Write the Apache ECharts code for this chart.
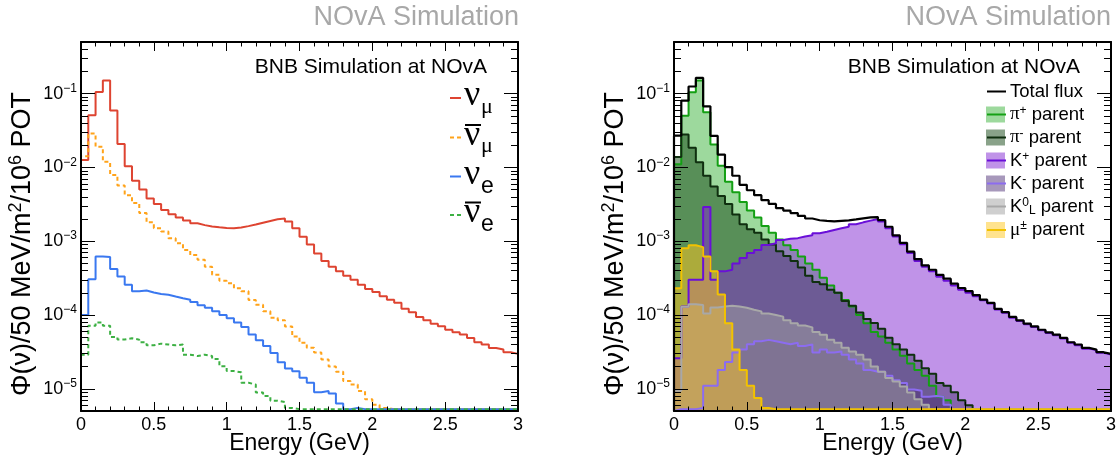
<!DOCTYPE html>
<html>
<head>
<meta charset="utf-8">
<title>BNB flux at NOvA</title>
<script src="https://cdn.jsdelivr.net/npm/echarts@6/dist/echarts.min.js"></script>
<style>
  html, body { margin: 0; padding: 0; background: #fff; }
  #chart { width: 1117px; height: 455px; }
</style>
</head>
<body>
<div id="chart"></div>
<script>
// 50 MeV bins from 0 to 3 GeV
const binEdges = [0, 0.05, 0.1, 0.15, 0.2, 0.25, 0.3, 0.35, 0.4, 0.45, 0.5, 0.55, 0.6, 0.65, 0.7, 0.75,
  0.8, 0.85, 0.9, 0.95, 1, 1.05, 1.1, 1.15, 1.2, 1.25, 1.3, 1.35, 1.4, 1.45, 1.5, 1.55, 1.6, 1.65, 1.7,
  1.75, 1.8, 1.85, 1.9, 1.95, 2, 2.05, 2.1, 2.15, 2.2, 2.25, 2.3, 2.35, 2.4, 2.45, 2.5, 2.55, 2.6, 2.65,
  2.7, 2.75, 2.8, 2.85, 2.9, 2.95, 3]

// left panel: flux per flavour
const numu = [0.0126, 0.051, 0.105, 0.151, 0.059, 0.0207, 0.0104, 0.0066, 0.0050, 0.0038,
  0.0032, 0.00265, 0.00232, 0.0021, 0.0019, 0.00175, 0.00165, 0.00158, 0.00154, 0.00151,
  0.0015, 0.00153, 0.0016, 0.00168, 0.00178, 0.00188, 0.00198, 0.00203, 0.00185, 0.0015,
  0.00115, 0.0009, 0.00068, 0.00054, 0.00045, 0.00039, 0.00034, 0.0003, 0.000257, 0.000225,
  0.000205, 0.00018, 0.000161, 0.000146, 0.000121, 0.000109, 0.000094, 0.0000846, 0.0000763, 0.0000702,
  0.0000631, 0.0000582, 0.0000543, 0.0000489, 0.0000427, 0.0000398, 0.0000358, 0.000034, 0.0000313, 0.0000297]
const numubar = [0.0142, 0.0287, 0.019, 0.0119, 0.0079, 0.0057, 0.0042, 0.0033, 0.0024, 0.0018,
  0.0015, 0.00135, 0.0011, 0.00094, 0.00076, 0.00065, 0.00056, 0.00045, 0.00035, 0.00029,
  0.00027, 0.00023, 0.00021, 0.00016, 0.000138, 0.000112, 0.000092, 0.000085, 0.00007, 0.000051,
  0.000042, 0.000036, 0.000031, 0.000025, 0.00002, 0.000017, 0.0000127, 0.0000114, 0.0000093, 0.0000072,
  0.0000061, 0.0000055, 0, 0, 0, 0, 0, 0, 0, 0,
  0, 0, 0, 0, 0, 0, 0, 0, 0, 0]
const nue = [0.0001, 0.000306, 0.00062, 0.00061, 0.00042, 0.000333, 0.000257, 0.00021, 0.000215, 0.000202,
  0.000193, 0.000188, 0.000178, 0.000169, 0.000161, 0.00015, 0.000135, 0.000125, 0.000112, 0.0001,
  0.0000905, 0.0000793, 0.0000686, 0.0000543, 0.0000455, 0.0000379, 0.0000305, 0.0000229, 0.0000189, 0.0000173,
  0.0000141, 0.0000121, 0.000009, 0.0000093, 0.0000086, 0.0000063, 0, 0.0000055, 0, 0,
  0, 0, 0, 0, 0, 0, 0, 0, 0, 0,
  0, 0, 0, 0, 0, 0, 0, 0, 0, 0]
const nuebar = [0.000029, 0.0000716, 0.0000793, 0.0000716, 0.0000505, 0.0000466, 0.0000484, 0.0000463, 0.0000427, 0.0000388,
  0.0000409, 0.0000398, 0.0000388, 0.0000398, 0.000029, 0.0000278, 0.000029, 0.0000278, 0.0000253, 0.0000202,
  0.0000174, 0.0000167, 0.0000121, 0.0000114, 0.0000089, 0.000008, 0.0000069, 0.0000066, 0.0000055, 0,
  0, 0, 0, 0, 0, 0, 0, 0, 0, 0,
  0, 0, 0, 0, 0, 0, 0, 0, 0, 0,
  0, 0, 0, 0, 0, 0, 0, 0, 0, 0]

// right panel: total flux and flux by parent
const totalFlux = [0.0269, 0.0801, 0.1247, 0.1636, 0.0673, 0.0268, 0.0149, 0.0101, 0.0077, 0.0058,
  0.0049, 0.0042, 0.0036, 0.0032, 0.0028, 0.0026, 0.0024, 0.0022, 0.00203, 0.00192,
  0.00188, 0.00186, 0.00189, 0.00191, 0.00197, 0.00204, 0.0021, 0.00212, 0.00193, 0.00157,
  0.0012, 0.00095, 0.00072, 0.00057, 0.00047, 0.00041, 0.00035, 0.00031, 0.000266, 0.000232,
  0.000211, 0.000186, 0.000161, 0.000146, 0.000121, 0.000109, 0.000094, 0.0000846, 0.0000763, 0.0000702,
  0.0000631, 0.0000582, 0.0000543, 0.0000489, 0.0000427, 0.0000398, 0.0000358, 0.000034, 0.0000313, 0.0000297]
const piPlus = [0.011, 0.05, 0.104, 0.15, 0.056, 0.0205, 0.0105, 0.0064, 0.0046, 0.0034,
  0.0026, 0.0021, 0.0016, 0.0013, 0.00105, 0.00088, 0.00076, 0.00062, 0.0005, 0.00041,
  0.00032, 0.00025, 0.0002, 0.00016, 0.00013, 0.0001, 0.000077, 0.000059, 0.000051, 0.000042,
  0.000034, 0.000028, 0.000022, 0.000018, 0.000015, 0.000011, 0.0000078, 0.000007, 0, 0,
  0, 0, 0, 0, 0, 0, 0, 0, 0, 0,
  0, 0, 0, 0, 0, 0, 0, 0, 0, 0]
const piMinus = [0.0138, 0.028, 0.0185, 0.0117, 0.0077, 0.0055, 0.0041, 0.0032, 0.0023, 0.0017,
  0.00145, 0.0013, 0.00105, 0.0009, 0.00073, 0.00063, 0.00054, 0.00044, 0.00034, 0.00028,
  0.00026, 0.00022, 0.0002, 0.000155, 0.000133, 0.000108, 0.000088, 0.000078, 0.000065, 0.000049,
  0.00004, 0.000034, 0.000029, 0.000024, 0.000019, 0.000016, 0.000012, 0.000011, 0.000009, 0.000007,
  0.000006, 0, 0, 0, 0, 0, 0, 0, 0, 0,
  0, 0, 0, 0, 0, 0, 0, 0, 0, 0]
const kPlus = [0.000026, 0.00013, 0.0003, 0.0003, 0.0029, 0.0003, 0.00039, 0.00041, 0.0005, 0.00059,
  0.00069, 0.00076, 0.00089, 0.00094, 0.00104, 0.00108, 0.0011, 0.00116, 0.0012, 0.00128,
  0.00134, 0.00142, 0.0015, 0.00157, 0.0017, 0.0018, 0.0019, 0.002, 0.00185, 0.0015,
  0.00116, 0.00091, 0.00069, 0.00054, 0.00045, 0.00039, 0.00033, 0.00029, 0.00025, 0.00022,
  0.0002, 0.00018, 0.000158, 0.000143, 0.000119, 0.000107, 0.000092, 0.000083, 0.000075, 0.000069,
  0.000062, 0.000057, 0.000053, 0.000048, 0.000042, 0.000039, 0.000035, 0.0000335, 0.0000308, 0.0000292]
const kMinus = [0, 0, 0, 0.0000055, 0.000011, 0.000011, 0.000018, 0.000023, 0.000031, 0.000034,
  0.00004, 0.000044, 0.000046, 0.000044, 0.000042, 0.00004, 0.000042, 0.000038, 0.00004, 0.000031,
  0.000034, 0.000031, 0.000032, 0.000029, 0.000025, 0.000022, 0.000018, 0.000017, 0.000017, 0.000015,
  0.000013, 0.000012, 0.0000098, 0.0000094, 0.0000078, 0.000008, 0.0000078, 0.0000061, 0, 0,
  0, 0, 0, 0, 0, 0, 0, 0, 0, 0,
  0, 0, 0, 0, 0, 0, 0, 0, 0, 0]
const kZeroL = [0.0000094, 0.000129, 0.00014, 0.000137, 0.000105, 0.000126, 0.00013, 0.000133, 0.00013, 0.000125,
  0.000118, 0.000112, 0.000105, 0.0001, 0.000095, 0.000085, 0.000077, 0.000072, 0.000068, 0.000059,
  0.000054, 0.000046, 0.000042, 0.000036, 0.000032, 0.000029, 0.000025, 0.00002, 0.000017, 0.000014,
  0.0000126, 0.0000107, 0.0000089, 0.0000072, 0.0000061, 0, 0, 0, 0, 0,
  0, 0, 0, 0, 0, 0, 0, 0, 0, 0,
  0, 0, 0, 0, 0, 0, 0, 0, 0, 0]
const muon = [0.00023, 0.0008, 0.00088, 0.00083, 0.00062, 0.00039, 0.00019, 0.000077, 0.000034, 0.000018,
  0.000011, 0.0000075, 0.0000055, 0, 0, 0, 0, 0, 0, 0,
  0, 0, 0, 0, 0, 0, 0, 0, 0, 0,
  0, 0, 0, 0, 0, 0, 0, 0, 0, 0,
  0, 0, 0, 0, 0, 0, 0, 0, 0, 0,
  0, 0, 0, 0, 0, 0, 0, 0, 0, 0]

// axis ticks
const xMajorTicks = [0, 0.5, 1, 1.5, 2, 2.5, 3]
const xMinorTicks = [0.1, 0.2, 0.3, 0.4, 0.6, 0.7, 0.8, 0.9, 1.1, 1.2, 1.3, 1.4, 1.6, 1.7, 1.8, 1.9,
  2.1, 2.2, 2.3, 2.4, 2.6, 2.7, 2.8, 2.9]
const yMajorTicks = [1e-5, 1e-4, 1e-3, 1e-2, 1e-1]
const yMinorTicks = [6e-6, 7e-6, 8e-6, 9e-6,
  2e-5, 3e-5, 4e-5, 5e-5, 6e-5, 7e-5, 8e-5, 9e-5,
  2e-4, 3e-4, 4e-4, 5e-4, 6e-4, 7e-4, 8e-4, 9e-4,
  2e-3, 3e-3, 4e-3, 5e-3, 6e-3, 7e-3, 8e-3, 9e-3,
  2e-2, 3e-2, 4e-2, 5e-2, 6e-2, 7e-2, 8e-2, 9e-2,
  2e-1, 3e-1, 4e-1]
const Y_MIN = 5e-6
const Y_MAX = 0.5
// empty bins are drawn just above the frame, as ROOT does
const Y_FLOOR = 5.3e-6

const FONT = "'Liberation Sans', Arial, Helvetica, sans-serif"
const GREEK = "'Liberation Serif', 'Times New Roman', serif"

const FLAVOUR_COLOR = { numu: '#de4431', numubar: '#ffa31a', nue: '#3a78f0', nuebar: '#3cb043' }
const DASH = [4, 3]

const FILL = {
  piPlus: 'rgba(60, 180, 60, 0.5)',
  piMinus: 'rgba(20, 70, 20, 0.5)',
  kPlus: 'rgba(130, 40, 210, 0.5)',
  kMinus: 'rgba(80, 50, 120, 0.5)',
  kZeroL: 'rgba(160, 160, 160, 0.5)',
  muon: 'rgba(255, 200, 30, 0.5)',
}
const EDGE = {
  piPlus: '#14a014',
  piMinus: '#0f2f0f',
  kPlus: '#6a0fd8',
  kMinus: '#8c6cf0',
  kZeroL: '#a8a8a8',
  muon: '#f2c200',
}

// histogram outline: one point per bin low edge
function stepData(values) {
  const pts = [[binEdges[0], Y_MIN]]
  values.forEach((v, i) => pts.push([binEdges[i], Math.max(v, Y_FLOOR)]))
  pts.push([binEdges[values.length], Math.max(values[values.length - 1], Y_FLOOR)])
  return pts
}

function xAxes(gridIndex) {
  const base = { type: 'value', gridIndex, min: 0, max: 3, z: 10, splitLine: { show: false } }
  const line = { show: true, onZero: false, lineStyle: { color: '#000', width: 2 } }
  const noLine = { show: false, onZero: false }
  const tick = (len, values) => ({ show: true, inside: true, length: len, customValues: values, lineStyle: { color: '#000', width: 1 } })
  return [
    {
      ...base, position: 'bottom', axisLine: line, axisTick: tick(9, xMajorTicks),
      axisLabel: { customValues: xMajorTicks, margin: 5, color: '#000', fontSize: 18, fontFamily: FONT },
      name: 'Energy (GeV)', nameLocation: 'middle', nameGap: 21, nameMoveOverlap: false,
      nameTextStyle: { color: '#000', fontSize: 23, fontFamily: FONT },
    },
    { ...base, position: 'bottom', axisLine: noLine, axisTick: tick(4.5, xMinorTicks), axisLabel: { show: false } },
    { ...base, position: 'top', axisLine: line, axisTick: tick(9, xMajorTicks), axisLabel: { show: false } },
    { ...base, position: 'top', axisLine: noLine, axisTick: tick(4.5, xMinorTicks), axisLabel: { show: false } },
  ]
}

function yAxes(gridIndex) {
  const base = { type: 'log', logBase: 10, gridIndex, min: Y_MIN, max: Y_MAX, z: 10, splitLine: { show: false } }
  const line = { show: true, onZero: false, lineStyle: { color: '#000', width: 2 } }
  const noLine = { show: false, onZero: false }
  const tick = (len, values) => ({ show: true, inside: true, length: len, customValues: values, lineStyle: { color: '#000', width: 1 } })
  return [
    {
      ...base, position: 'left', axisLine: line, axisTick: tick(14, yMajorTicks),
      axisLabel: {
        customValues: yMajorTicks, margin: 4,
        formatter: (v) => `{b|10}{s|\u2212${Math.round(-Math.log10(v))}}`,
        rich: {
          b: { fontSize: 18, fontFamily: FONT, color: '#000', lineHeight: 22 },
          s: { fontSize: 12, fontFamily: FONT, color: '#000', lineHeight: 12, verticalAlign: 'top' },
        },
      },
      name: '{t|\u03a6(\u03bd)/50 MeV/m}{p|2}{t|/10}{p|6}{t| POT}',
      nameLocation: 'middle', nameGap: 42, nameRotate: 90, nameMoveOverlap: false,
      nameTextStyle: {
        padding: [0, 35, 0, 0],
        rich: {
          t: { fontSize: 27, fontFamily: FONT, color: '#000', lineHeight: 32 },
          p: { fontSize: 18, fontFamily: FONT, color: '#000', lineHeight: 18, verticalAlign: 'top' },
        },
      },
    },
    { ...base, position: 'left', axisLine: noLine, axisTick: tick(7, yMinorTicks), axisLabel: { show: false } },
    { ...base, position: 'right', axisLine: line, axisTick: tick(14, yMajorTicks), axisLabel: { show: false } },
    { ...base, position: 'right', axisLine: noLine, axisTick: tick(7, yMinorTicks), axisLabel: { show: false } },
  ]
}

function hist(name, values, panel, lineStyle, fill) {
  const s = {
    name, type: 'line', step: 'end', xAxisIndex: panel * 4, yAxisIndex: panel * 4,
    data: stepData(values), symbol: 'none', silent: true, clip: true,
    lineStyle: { width: 2, ...lineStyle }, color: lineStyle.color,
  }
  if (fill) s.areaStyle = { color: fill, opacity: 1, origin: 'start' }
  return s
}

// left legend (ROOT TLatex style), drawn as graphics
const leftLegendRows = [
  { key: 'numu', sub: '\u03bc', bar: false, dashed: false, y: 98 },
  { key: 'numubar', sub: '\u03bc', bar: true, dashed: true, y: 137.5 },
  { key: 'nue', sub: 'e', bar: false, dashed: false, y: 176.5 },
  { key: 'nuebar', sub: 'e', bar: true, dashed: true, y: 215 },
]
function leftLegend() {
  const els = []
  leftLegendRows.forEach((r) => {
    els.push({ type: 'line', shape: { x1: 450, y1: r.y, x2: 461, y2: r.y },
      style: { stroke: FLAVOUR_COLOR[r.key], lineWidth: 2, lineDash: r.dashed ? DASH : null } })
    els.push({ type: 'text', x: 464, y: r.y - 2,
      style: { text: '\u03bd', font: `36px ${GREEK}`, fill: '#000', align: 'left', verticalAlign: 'middle' } })
    const greekSub = r.sub !== 'e'
    els.push({ type: 'text', x: 481, y: r.y + (greekSub ? 9 : 10),
      style: { text: r.sub, font: greekSub ? `22px ${GREEK}` : `23px ${FONT}`, fill: '#000', align: 'left', verticalAlign: 'middle' } })
    if (r.bar) {
      els.push({ type: 'line', shape: { x1: 465, y1: r.y - 12.5, x2: 481, y2: r.y - 12.5 }, style: { stroke: '#000', lineWidth: 2 } })
    }
  })
  return els
}

const RIGHT_LABELS = {
  total: '{t|Total flux}',
  piPlus: '{g|\u03c0}{sp|+}{t| parent}',
  piMinus: '{g|\u03c0}{sp|-}{t| parent}',
  kPlus: '{t|K}{sp|+}{t| parent}',
  kMinus: '{t|K}{sp|-}{t| parent}',
  kZeroL: '{t|K}{sp|0}{sb|L}{t| parent}',
  muon: '{g|\u03bc}{sp|\u00b1}{t| parent}',
}
function rightRich(color) {
  return {
    t: { fontSize: 18.5, fontFamily: FONT, color, lineHeight: 20 },
    g: { fontSize: 19, fontFamily: GREEK, color, lineHeight: 20 },
    sp: { fontSize: 12, fontFamily: FONT, color, lineHeight: 10, verticalAlign: 'top' },
    sb: { fontSize: 12, fontFamily: FONT, color, lineHeight: 10, verticalAlign: 'bottom' },
  }
}

const chart = echarts.init(document.getElementById('chart'), null, { renderer: 'canvas' })
chart.setOption({
  animation: false,
  backgroundColor: '#fff',
  textStyle: { fontFamily: FONT },
  grid: [
    { left: 81, top: 42, width: 437, height: 369, outerBoundsMode: 'none', containLabel: false },
    { left: 674, top: 42, width: 437, height: 369, outerBoundsMode: 'none', containLabel: false },
  ],
  xAxis: [...xAxes(0), ...xAxes(1)],
  yAxis: [...yAxes(0), ...yAxes(1)],
  legend: [
    {
      left: 981, top: 77, orient: 'vertical', itemWidth: 19, itemHeight: 16, itemGap: 3.5,
      icon: 'rect', selectedMode: false,
      itemStyle: { borderWidth: 0 },
      data: [
        { name: 'total', itemStyle: { opacity: 0 } },
        { name: 'piPlus', itemStyle: { color: FILL.piPlus } },
        { name: 'piMinus', itemStyle: { color: FILL.piMinus } },
        { name: 'kPlus', itemStyle: { color: FILL.kPlus } },
        { name: 'kMinus', itemStyle: { color: FILL.kMinus } },
        { name: 'kZeroL', itemStyle: { color: FILL.kZeroL } },
        { name: 'muon', itemStyle: { color: FILL.muon } },
      ],
      formatter: (n) => RIGHT_LABELS[n],
      textStyle: { rich: rightRich('#000') },
    },
    {
      left: 981, top: 77, orient: 'vertical', itemWidth: 19, itemHeight: 16, itemGap: 3.5,
      selectedMode: false,
      itemStyle: { opacity: 0 },
      data: ['total', 'piPlus', 'piMinus', 'kPlus', 'kMinus', 'kZeroL', 'muon'],
      formatter: (n) => RIGHT_LABELS[n],
      textStyle: { rich: rightRich('rgba(0,0,0,0)') },
    },
  ],
  graphic: [
    { type: 'text', x: 519, y: 18, style: { text: 'NOvA Simulation', fill: '#a8a8a8', font: `27px ${FONT}`, align: 'right', verticalAlign: 'middle' } },
    { type: 'text', x: 1111, y: 18, style: { text: 'NOvA Simulation', fill: '#a8a8a8', font: `27px ${FONT}`, align: 'right', verticalAlign: 'middle' } },
    { type: 'text', x: 487, y: 67, style: { text: 'BNB Simulation at NOvA', fill: '#000', font: `21px ${FONT}`, align: 'right', verticalAlign: 'middle' } },
    { type: 'text', x: 1080, y: 67, style: { text: 'BNB Simulation at NOvA', fill: '#000', font: `21px ${FONT}`, align: 'right', verticalAlign: 'middle' } },
    ...leftLegend(),
  ],
  series: [
    hist('numu', numu, 0, { color: FLAVOUR_COLOR.numu }),
    hist('numubar', numubar, 0, { color: FLAVOUR_COLOR.numubar, type: DASH }),
    hist('nue', nue, 0, { color: FLAVOUR_COLOR.nue }),
    hist('nuebar', nuebar, 0, { color: FLAVOUR_COLOR.nuebar, type: DASH }),

    hist('piPlus', piPlus, 1, { color: EDGE.piPlus }, FILL.piPlus),
    hist('piMinus', piMinus, 1, { color: EDGE.piMinus }, FILL.piMinus),
    hist('kPlus', kPlus, 1, { color: EDGE.kPlus }, FILL.kPlus),
    hist('kMinus', kMinus, 1, { color: EDGE.kMinus }, FILL.kMinus),
    hist('kZeroL', kZeroL, 1, { color: EDGE.kZeroL }, FILL.kZeroL),
    hist('muon', muon, 1, { color: EDGE.muon }, FILL.muon),
    hist('total', totalFlux, 1, { color: '#000', width: 2.2 }),
  ],
})
</script>
</body>
</html>
